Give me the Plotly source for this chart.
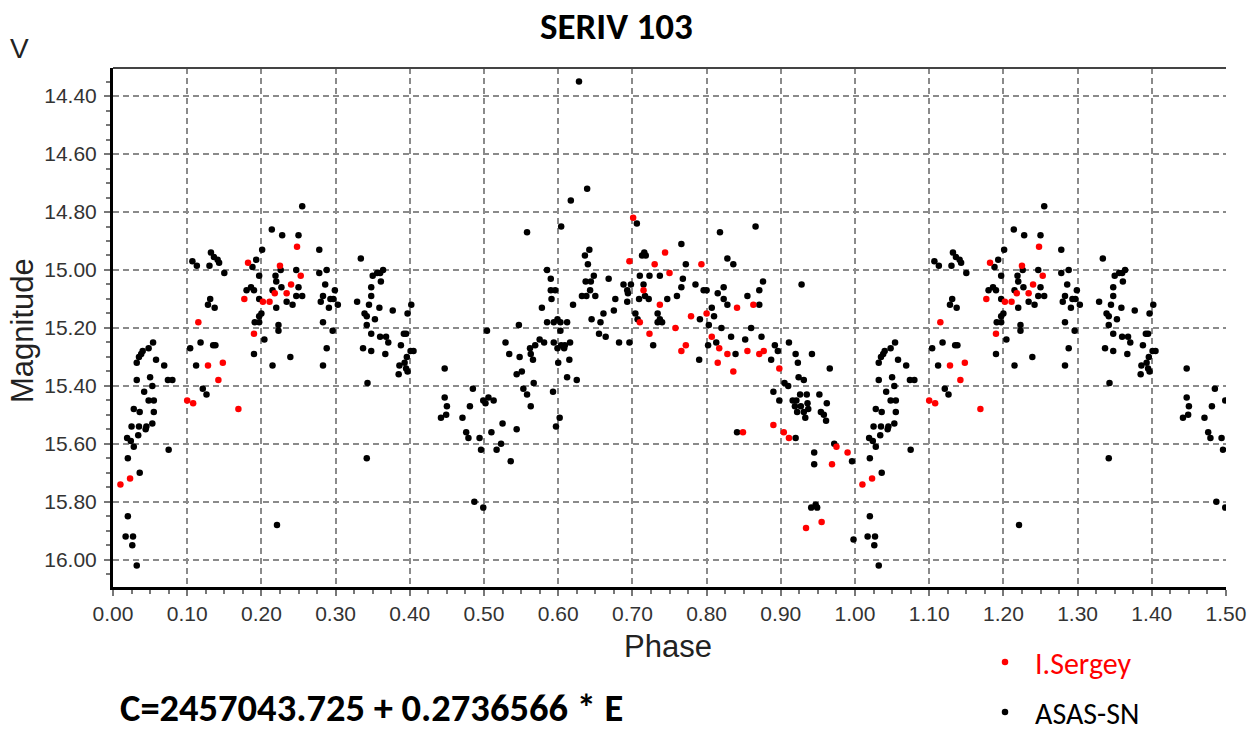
import plotly.graph_objects as go

# ASAS-SN data (phase 0..1)
asas_phase = [
    0.020, 0.017, 0.027, 0.026, 0.032, 0.036, 0.020, 0.019, 0.024, 0.028,
    0.025, 0.034, 0.035, 0.028, 0.036, 0.032, 0.032, 0.035, 0.038, 0.040,
    0.048, 0.054, 0.042, 0.050, 0.053, 0.048, 0.055, 0.055, 0.045, 0.053,
    0.044, 0.058, 0.069, 0.074, 0.080, 0.075, 0.104, 0.107, 0.113, 0.112,
    0.118, 0.121, 0.126, 0.131, 0.128, 0.137, 0.135, 0.138, 0.130, 0.132,
    0.136, 0.141, 0.143, 0.150, 0.188, 0.193, 0.197, 0.201, 0.180, 0.186,
    0.190, 0.197, 0.200, 0.197, 0.191, 0.197, 0.204, 0.190, 0.214, 0.228,
    0.250, 0.255, 0.215, 0.221, 0.219, 0.220, 0.226, 0.215, 0.227, 0.220,
    0.223, 0.223, 0.239, 0.234, 0.242, 0.247, 0.250, 0.247, 0.255,
    0.278, 0.278, 0.288, 0.286, 0.299, 0.283, 0.280, 0.293, 0.297, 0.291,
    0.303, 0.283, 0.296, 0.288, 0.283, 0.334, 0.350, 0.356, 0.360, 0.364,
    0.361, 0.348, 0.348, 0.329, 0.345, 0.339, 0.342, 0.353, 0.359, 0.377,
    0.397, 0.402, 0.342, 0.348, 0.360, 0.368, 0.371, 0.392, 0.395, 0.337,
    0.348, 0.367, 0.388, 0.401, 0.405, 0.396, 0.393, 0.386, 0.395, 0.385,
    0.397, 0.343, 0.342, 0.447, 0.447, 0.450, 0.449, 0.442, 0.485, 0.481,
    0.471, 0.476, 0.479, 0.494, 0.496, 0.499, 0.502, 0.506, 0.513, 0.510,
    0.525, 0.523, 0.517, 0.536, 0.544, 0.487, 0.499, 0.504, 0.529, 0.534,
    0.547, 0.544,
    0.628, 0.639, 0.617, 0.604, 0.558, 0.548, 0.551, 0.553, 0.558, 0.567,
    0.563, 0.562, 0.563, 0.566, 0.569, 0.575, 0.581, 0.578, 0.585, 0.590,
    0.590, 0.596, 0.591, 0.585, 0.594, 0.599, 0.603, 0.612, 0.603, 0.594,
    0.599, 0.604, 0.609, 0.616, 0.608, 0.600, 0.615, 0.612, 0.625, 0.593,
    0.602, 0.597, 0.620, 0.632, 0.638, 0.643, 0.650, 0.637, 0.644, 0.648,
    0.640, 0.636, 0.642, 0.645, 0.657, 0.661, 0.655, 0.664, 0.668, 0.677,
    0.675, 0.682, 0.696, 0.688, 0.693, 0.694, 0.698, 0.693, 0.704, 0.707,
    0.706, 0.710, 0.715, 0.709, 0.717, 0.722, 0.713, 0.718, 0.716, 0.723,
    0.737, 0.734, 0.737, 0.740, 0.734, 0.728, 0.747, 0.760, 0.766, 0.768,
    0.772, 0.766, 0.785, 0.796, 0.800, 0.791, 0.807, 0.810, 0.803, 0.802,
    0.790, 0.818, 0.815,
    0.866, 0.828, 0.836, 0.928, 0.876, 0.871, 0.871, 0.855, 0.823, 0.823,
    0.828, 0.820, 0.833, 0.852, 0.860, 0.874, 0.813, 0.839, 0.892, 0.896,
    0.887, 0.911, 0.920, 0.923, 0.942, 0.966, 0.924, 0.931, 0.905, 0.910,
    0.890, 0.898, 0.926, 0.935, 0.916, 0.921, 0.919, 0.927, 0.922, 0.931,
    0.937, 0.933, 0.936, 0.952, 0.962, 0.954, 0.958, 0.961, 0.841, 0.920,
    0.945, 0.945, 0.972, 0.996, 0.941, 0.947, 0.949, 0.998,
]
asas_mag = [
    15.85, 15.92, 15.92, 15.95, 16.02, 15.70, 15.65, 15.58, 15.59, 15.61,
    15.54, 15.57, 15.54, 15.48, 15.49, 15.38, 15.32, 15.30, 15.29, 15.28,
    15.27, 15.25, 15.42, 15.37, 15.40, 15.45, 15.45, 15.49, 15.54, 15.53,
    15.55, 15.31, 15.33, 15.38, 15.38, 15.62, 15.27, 14.97, 14.985, 15.33,
    15.25, 15.41, 15.43, 15.10, 15.12, 15.13, 15.26, 15.26, 14.985, 14.94,
    14.955, 14.965, 14.975, 15.01, 14.99, 14.965, 15.02, 14.93, 15.07, 15.06,
    15.07, 15.10, 15.15, 15.16, 15.18, 15.18, 15.24, 15.29, 14.86, 14.88,
    14.88, 14.78, 15.33, 15.88, 15.02, 15.04, 15.00, 15.07, 15.06, 15.13,
    15.19, 15.21, 15.30, 15.11, 15.12, 15.00, 15.06, 15.09, 15.09,
    14.93, 15.01, 15.00, 15.05, 15.07, 15.09, 15.11, 15.10, 15.10, 15.13,
    15.12, 15.18, 15.21, 15.27, 15.33, 14.96, 15.02, 15.01, 15.01, 15.00,
    15.04, 15.06, 15.09, 15.11, 15.12, 15.15, 15.16, 15.17, 15.13, 15.14,
    15.15, 15.12, 15.19, 15.22, 15.23, 15.23, 15.25, 15.22, 15.22, 15.27,
    15.28, 15.29, 15.26, 15.28, 15.28, 15.30, 15.32, 15.33, 15.34, 15.36,
    15.35, 15.39, 15.65, 15.34, 15.44, 15.47, 15.50, 15.51, 15.41, 15.47,
    15.51, 15.56, 15.58, 15.58, 15.62, 15.45, 15.46, 15.44, 15.45, 15.56,
    15.53, 15.60, 15.62, 15.66, 15.55, 15.80, 15.82, 15.21, 15.25, 15.29,
    15.19, 15.36,
    14.35, 14.72, 14.76, 14.85, 14.87, 15.30, 15.35, 15.41, 15.43, 15.39,
    15.47, 15.27, 15.29, 15.31, 15.26, 15.24, 15.25, 15.13, 15.00, 15.03,
    15.07, 15.07, 15.10, 15.18, 15.18, 15.17, 15.18, 15.18, 15.21, 15.25,
    15.27, 15.26, 15.26, 15.25, 15.27, 15.32, 15.31, 15.37, 15.38, 15.42,
    15.51, 15.54, 15.12, 15.09, 15.09, 15.07, 15.09, 15.04, 15.04, 15.02,
    14.98, 14.95, 14.93, 15.17, 15.18, 15.15, 15.22, 15.23, 15.03, 15.10,
    15.14, 15.25, 15.25, 15.05, 15.07, 15.08, 15.05, 15.11, 15.15, 15.17,
    14.84, 15.02, 15.05, 15.10, 15.09, 15.10, 14.95, 14.95, 14.94, 15.02,
    15.02, 15.15, 15.17, 15.18, 15.18, 15.26, 15.10, 15.09, 15.06, 15.03,
    14.98, 14.91, 15.05, 15.07, 15.07, 15.17, 15.13, 15.16, 15.19, 15.26,
    15.31, 14.87, 15.08,
    14.85, 14.96, 14.98, 15.05, 15.04, 15.07, 15.12, 15.09, 15.06, 15.10,
    15.12, 15.20, 15.23, 15.24, 15.20, 15.23, 15.25, 15.29, 15.26, 15.28,
    15.31, 15.25, 15.29, 15.32, 15.29, 15.34, 15.37, 15.38, 15.39, 15.40,
    15.42, 15.45, 15.43, 15.43, 15.45, 15.45, 15.47, 15.47, 15.49, 15.49,
    15.48, 15.51, 15.46, 15.43, 15.46, 15.49, 15.50, 15.52, 15.56, 15.58,
    15.63, 15.67, 15.60, 15.66, 15.82, 15.81, 15.82, 15.93,
]

# I.Sergey data (phase 0..1)
sergey_phase = [
    0.010, 0.023, 0.100, 0.108, 0.115, 0.128, 0.148, 0.142, 0.169, 0.177,
    0.182, 0.190, 0.202, 0.211, 0.225, 0.218, 0.234, 0.240, 0.248, 0.253,
    0.701, 0.696, 0.715, 0.730, 0.744, 0.750, 0.737, 0.710, 0.723, 0.758,
    0.772, 0.766, 0.779, 0.793, 0.800, 0.807, 0.815, 0.817, 0.828, 0.836,
    0.841, 0.863, 0.855, 0.871, 0.877, 0.898, 0.849, 0.890, 0.904, 0.911,
    0.934, 0.955, 0.969, 0.975, 0.990,
]
sergey_mag = [
    15.74, 15.72, 15.45, 15.46, 15.18, 15.33, 15.32, 15.38, 15.48, 15.10,
    14.975, 15.22, 15.11, 15.11, 14.985, 15.08, 15.08, 15.05, 14.92, 15.02,
    14.82, 14.97, 15.07, 14.98, 14.94, 15.01, 15.12, 15.18, 15.22, 15.20,
    15.26, 15.28, 15.16, 14.98, 15.15, 15.23, 15.32, 15.27, 15.29, 15.35,
    15.13, 15.12, 15.28, 15.29, 15.28, 15.34, 15.56, 15.535, 15.56, 15.58,
    15.89, 15.87, 15.67, 15.61, 15.63,
]

x_ticks = [i / 10 for i in range(16)]
y_ticks = [14.40, 14.60, 14.80, 15.00, 15.20, 15.40, 15.60, 15.80, 16.00]


def extend(ph, mg):
    """Phase diagram convention: repeat phases 0-0.5 at 1.0-1.5."""
    xs = list(ph) + [p + 1 for p in ph if p < 0.5]
    ys = list(mg) + [m for p, m in zip(ph, mg) if p < 0.5]
    return xs, ys


ax, ay = extend(asas_phase, asas_mag)
sx, sy = extend(sergey_phase, sergey_mag)

ARIAL = "Liberation Sans, Arial, sans-serif"
CAL = "Carlito, Calibri, Liberation Sans Narrow, Open Sans, sans-serif"

fig = go.Figure()
fig.add_trace(go.Scatter(
    x=ax, y=ay, mode="markers", name="ASAS-SN",
    legendgroup="b", legendrank=2,
    marker=dict(color="#000000", size=6.5, line=dict(width=0)),
))
fig.add_trace(go.Scatter(
    x=sx, y=sy, mode="markers", name="<span style='color:#ff0000'>I.Sergey</span>",
    legendgroup="a", legendrank=1,
    marker=dict(color="#ff0000", size=6.5, line=dict(width=0)),
))

axis_common = dict(
    showgrid=True, gridcolor="#8a8a8a", gridwidth=1.5, griddash="6px,4px",
    showline=True, linecolor="#000000", linewidth=3, zeroline=False,
    ticks="outside", ticklen=6, tickwidth=1.5, tickcolor="#777777",
    tickformat=".2f",
    tickfont=dict(family=ARIAL, size=21, color="#333333"),
)

fig.update_xaxes(
    range=[0, 1.5], tickvals=x_ticks,
    minor=dict(dtick=0.025, tick0=0, ticks="outside", ticklen=4,
               tickwidth=1.5, tickcolor="#777777", showgrid=False),
    **axis_common,
)
fig.update_yaxes(
    range=[16.094, 14.303], tickvals=y_ticks, ticklabelstandoff=3,
    minor=dict(dtick=0.05, tick0=14.4, ticks="outside", ticklen=4,
               tickwidth=1.5, tickcolor="#777777", showgrid=False),
    **axis_common,
)

# top frame line
fig.add_shape(type="line", xref="paper", yref="paper", x0=0, x1=1, y0=1, y1=1,
              line=dict(color="#444444", width=2))

anns = [
    dict(text="<b>SERIV 103</b>", x=0.4528, y=1.079, font=dict(family=CAL, size=37, color="#000")),
    dict(text="V", x=-0.0836, y=1.0385, font=dict(family=ARIAL, size=28, color="#222")),
    dict(text="Magnitude", x=-0.0818, y=0.495, textangle=-90, font=dict(family=ARIAL, size=31, color="#222")),
    dict(text="Phase", x=0.4987, y=-0.1156, font=dict(family=ARIAL, size=31, color="#222")),
    dict(text="<b>C=2457043.725 + 0.2736566 * E</b>", x=0.232, y=-0.233,
         font=dict(family=CAL, size=38.5, color="#000")),
]
for a in anns:
    fig.add_annotation(xref="paper", yref="paper", showarrow=False,
                       xanchor="center", yanchor="middle", **a)

fig.update_layout(
    width=1256, height=731,
    margin=dict(l=113, r=30, t=68, b=144, autoexpand=False),
    paper_bgcolor="#ffffff", plot_bgcolor="#ffffff",
    legend=dict(x=0.7745, y=-0.0944, xanchor="left", yanchor="top",
                traceorder="grouped", tracegroupgap=8, itemwidth=50,
                bgcolor="rgba(0,0,0,0)", font=dict(family=CAL, size=30, color="#000000")),
)

fig.write_html(
    "out.html",
    config={"displayModeBar": False},
    post_script="document.body.style.margin='0';document.body.style.overflow='hidden';",
)
